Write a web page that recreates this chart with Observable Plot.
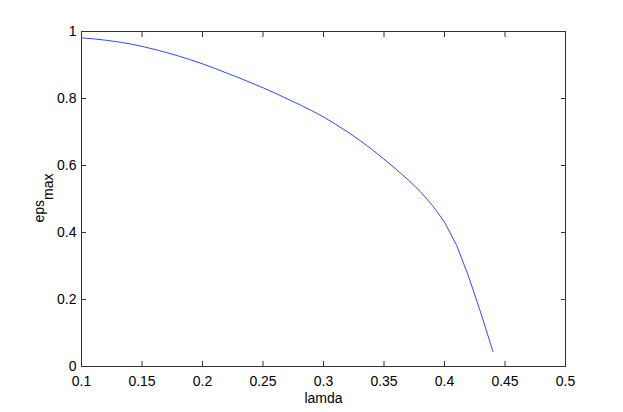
<!DOCTYPE html>
<html>
<head>
<meta charset="utf-8">
<script src="https://cdn.jsdelivr.net/npm/d3@7"></script>
<script src="https://cdn.jsdelivr.net/npm/@observablehq/plot@0.6"></script>
<style>
  html, body { margin: 0; padding: 0; background: #fff; }
  svg { display: block; }
</style>
</head>
<body>
<div id="chart"></div>
<script>
const lamda = [0.10, 0.11, 0.12, 0.13, 0.14, 0.15, 0.16, 0.17, 0.18, 0.19,
               0.20, 0.21, 0.22, 0.23, 0.24, 0.25, 0.26, 0.27, 0.28, 0.29,
               0.30, 0.31, 0.32, 0.33, 0.34, 0.35, 0.36, 0.37, 0.38, 0.39,
               0.40, 0.41, 0.42, 0.43, 0.44];
const epsMax = [0.981, 0.978, 0.974, 0.969, 0.963, 0.9555, 0.947, 0.9375, 0.927, 0.9155,
                0.9035, 0.890, 0.876, 0.862, 0.847, 0.832, 0.816, 0.799, 0.782, 0.764,
                0.745, 0.723, 0.700, 0.675, 0.648, 0.619, 0.589, 0.557, 0.522, 0.481,
                0.431, 0.362, 0.268, 0.160, 0.045];
const xTicks = [0.1, 0.15, 0.2, 0.25, 0.3, 0.35, 0.4, 0.45, 0.5];
const yTicks = [0, 0.2, 0.4, 0.6, 0.8, 1];
const xLabel = "lamda";
const yLabelMain = "eps";
const yLabelSub = "max";

const data = lamda.map((l, i) => ({lamda: l, eps: epsMax[i]}));
const fmt = d => String(+d.toFixed(2));
const axisColor = "#333";

const chart = Plot.plot({
  width: 623,
  height: 412,
  marginLeft: 81,
  marginRight: 58,
  marginTop: 31,
  marginBottom: 46,
  style: {fontFamily: "'Liberation Sans', Arial, sans-serif", fontSize: "14px", color: "#000", background: "#fff"},
  x: {domain: [0.1, 0.5]},
  y: {domain: [0, 1]},
  marks: [
    Plot.axisX({anchor: "bottom", ticks: xTicks, tickSize: -5, tickPadding: 15, tickFormat: fmt, label: null, stroke: axisColor, fill: "#000"}),
    Plot.axisX({anchor: "top", ticks: xTicks, tickSize: -5, tickFormat: () => "", label: null, stroke: axisColor}),
    Plot.axisY({anchor: "left", ticks: yTicks, tickSize: -5, tickPadding: 10, tickFormat: fmt, label: null, stroke: axisColor, fill: "#000"}),
    Plot.axisY({anchor: "right", ticks: yTicks, tickSize: -5, tickFormat: () => "", label: null, stroke: axisColor}),
    Plot.frame({stroke: axisColor, strokeWidth: 1}),
    Plot.line(data, {x: "lamda", y: "eps", stroke: "#2a4cff", strokeWidth: 1}),
    Plot.text([xLabel], {frameAnchor: "bottom", dy: 36, text: d => d, fontSize: 14, fill: "#000"})
  ]
});

const svg = d3.select(chart);
const yl = svg.append("text")
  .attr("transform", "translate(44,198) rotate(-90)")
  .attr("text-anchor", "middle")
  .attr("font-family", "'Liberation Sans', Arial, sans-serif")
  .attr("font-size", 14)
  .attr("fill", "#000");
yl.append("tspan").text(yLabelMain);
yl.append("tspan").attr("dy", 9).attr("font-size", 14).text(yLabelSub);

document.getElementById("chart").appendChild(chart);
</script>
</body>
</html>
